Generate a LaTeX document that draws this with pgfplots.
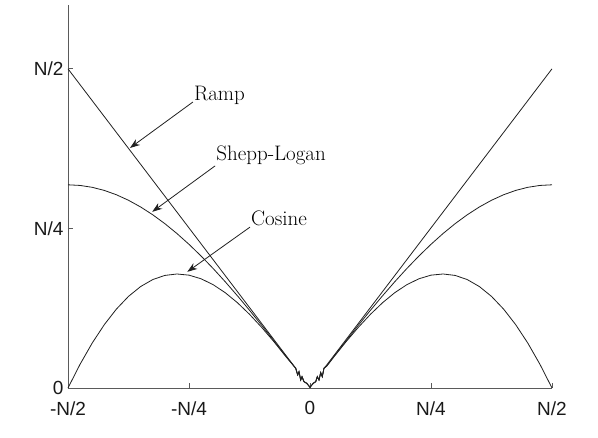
\documentclass[border=0pt]{standalone}
\usepackage{fontspec}
\usepackage{pgfplots}
\pgfplotsset{compat=1.18}
\usetikzlibrary{arrows.meta}
\newfontfamily\ticksf{Liberation Sans}
\definecolor{axgray}{HTML}{5A5A5A}
\definecolor{curve}{HTML}{202020}
\begin{document}
\begin{tikzpicture}
\useasboundingbox (-68pt,-50pt) rectangle (530pt,388pt);
\begin{axis}[
  scale only axis,
  width=484pt, height=383pt,
  xmin=-0.5, xmax=0.5, ymin=0, ymax=0.6,
  axis x line*=bottom, axis y line*=left,
  axis line style={axgray, line width=0.7pt},
  xtick={-0.5,-0.25,0,0.25,0.5},
  xticklabels={-N/2,-N/4,0,N/4,N/2},
  ytick={0,0.25,0.5},
  yticklabels={0,N/4,N/2},
  tick align=inside,
  major tick length=5pt,
  tick style={axgray, line width=0.7pt},
  ticklabel style={font=\ticksf\fontsize{19}{19}\selectfont, text=black!90},
  xticklabel style={yshift=-10pt},
  yticklabel style={xshift=-1pt},
  clip=false,
]
% Ramp
\addplot[curve, line width=0.8pt] coordinates {
(-0.5,0.5) (-0.0295,0.0309) (-0.0254,0.0204) (-0.0227,0.0255) (-0.0192,0.0125) (-0.0165,0.0177) (-0.0124,0.0099) (-0.0068,0.0074) (0,0.0011)
(0.0068,0.0074) (0.0118,0.0099) (0.0151,0.0177) (0.0186,0.0125) (0.0221,0.0240) (0.0254,0.0177) (0.0289,0.0309) (0.0345,0.0360) (0.5,0.5)
};
% Shepp-Logan
\addplot[curve, line width=0.8pt] coordinates {
(-0.500,0.31831) (-0.475,0.31733) (-0.450,0.31439) (-0.425,0.30952) (-0.400,0.30273) (-0.375,0.29408) (-0.350,0.28362) (-0.325,0.27140) (-0.300,0.25752) (-0.275,0.24204) (-0.250,0.22508) (-0.225,0.20673) (-0.200,0.18710) (-0.175,0.16632) (-0.150,0.14451) (-0.125,0.12181) (-0.100,0.09836) (-0.075,0.07431) (-0.050,0.04979)
(-0.0295,0.0309) (-0.0254,0.0204) (-0.0227,0.0255) (-0.0192,0.0125) (-0.0165,0.0177) (-0.0124,0.0099) (-0.0068,0.0074) (0,0.0011)
(0.0068,0.0074) (0.0118,0.0099) (0.0151,0.0177) (0.0186,0.0125) (0.0221,0.0240) (0.0254,0.0177) (0.0289,0.0309) (0.0345,0.0344)
(0.050,0.04979) (0.075,0.07431) (0.100,0.09836) (0.125,0.12181) (0.150,0.14451) (0.175,0.16632) (0.200,0.18710) (0.225,0.20673) (0.250,0.22508) (0.275,0.24204) (0.300,0.25752) (0.325,0.27140) (0.350,0.28362) (0.375,0.29408) (0.400,0.30273) (0.425,0.30952) (0.450,0.31439) (0.475,0.31733) (0.500,0.31831)
};
% Cosine
\addplot[curve, line width=0.8pt] coordinates {
(-0.500,0) (-0.475,0.03727) (-0.450,0.07039) (-0.425,0.09922) (-0.400,0.12361) (-0.375,0.14351) (-0.350,0.15890) (-0.325,0.16981) (-0.300,0.17634) (-0.275,0.17860) (-0.250,0.17678) (-0.225,0.17109) (-0.200,0.16180) (-0.175,0.14921) (-0.150,0.13365) (-0.125,0.11549) (-0.100,0.09511) (-0.075,0.07293) (-0.050,0.04938)
(-0.0295,0.0309) (-0.0254,0.0204) (-0.0227,0.0255) (-0.0192,0.0125) (-0.0165,0.0177) (-0.0124,0.0099) (-0.0068,0.0074) (0,0.0011)
(0.0068,0.0074) (0.0118,0.0099) (0.0151,0.0177) (0.0186,0.0125) (0.0221,0.0240) (0.0254,0.0177) (0.0289,0.0309) (0.0345,0.0342)
(0.050,0.04938) (0.075,0.07293) (0.100,0.09511) (0.125,0.11549) (0.150,0.13365) (0.175,0.14921) (0.200,0.16180) (0.225,0.17109) (0.250,0.17678) (0.275,0.17860) (0.300,0.17634) (0.325,0.16981) (0.350,0.15890) (0.375,0.14351) (0.400,0.12361) (0.425,0.09922) (0.450,0.07039) (0.475,0.03727) (0.500,0)
};
% annotations
\draw[curve, line width=0.8pt, -{Stealth[length=10pt,width=7pt]}] (axis cs:-0.242,0.448) -- (axis cs:-0.372,0.376);
\draw[curve, line width=0.8pt, -{Stealth[length=10pt,width=7pt]}] (axis cs:-0.196,0.348) -- (axis cs:-0.326,0.276);
\draw[curve, line width=0.8pt, -{Stealth[length=10pt,width=7pt]}] (axis cs:-0.124,0.252) -- (axis cs:-0.2535,0.182);
\node[anchor=west, inner sep=0pt, font=\fontsize{21}{21}\selectfont] at (axis cs:-0.240,0.459) {Ramp};
\node[anchor=west, inner sep=0pt, font=\fontsize{21}{21}\selectfont] at (axis cs:-0.194,0.365) {Shepp-Logan};
\node[anchor=west, inner sep=0pt, font=\fontsize{21}{21}\selectfont] at (axis cs:-0.122,0.266) {Cosine};
\end{axis}
\end{tikzpicture}
\end{document}
